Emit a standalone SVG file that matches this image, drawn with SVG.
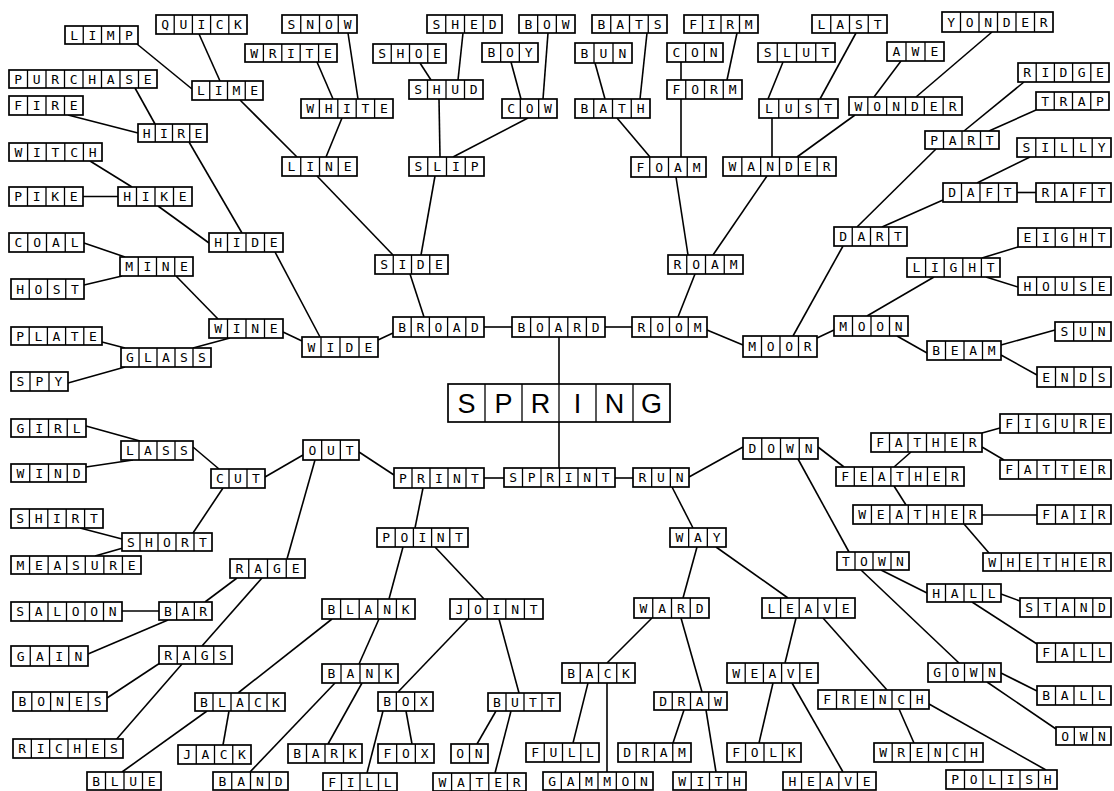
<svg xmlns="http://www.w3.org/2000/svg" width="1114" height="791" viewBox="0 0 1114 791">
<style>
.n rect{fill:#fff;stroke:#000;stroke-width:1.7}
.n path{fill:none;stroke:#000;stroke-width:1.3}
.n text{font-family:"DejaVu Sans Mono",monospace;font-size:13px;fill:#000}
#connectors line{stroke:#000;stroke-width:1.6}
#spring text{font-family:"Liberation Sans",Arial,sans-serif;font-size:27px;text-anchor:middle}
</style>
<rect width="1114" height="791" fill="#fff"/>
<g id="connectors">
<line x1="484" y1="327" x2="512" y2="327"/>
<line x1="605" y1="327" x2="632" y2="327"/>
<line x1="559" y1="337" x2="559" y2="468"/>
<line x1="410" y1="274" x2="424" y2="317"/>
<line x1="393" y1="333" x2="378" y2="340"/>
<line x1="283" y1="332" x2="302" y2="341"/>
<line x1="275" y1="252" x2="320" y2="337"/>
<line x1="317" y1="176" x2="393" y2="255"/>
<line x1="435" y1="176" x2="421" y2="255"/>
<line x1="240" y1="100" x2="297" y2="157"/>
<line x1="342" y1="118" x2="326" y2="157"/>
<line x1="317" y1="62" x2="333" y2="99"/>
<line x1="348" y1="33" x2="358" y2="99"/>
<line x1="439" y1="99" x2="440" y2="157"/>
<line x1="528" y1="118" x2="453" y2="157"/>
<line x1="420" y1="63" x2="431" y2="80"/>
<line x1="463" y1="33" x2="458" y2="80"/>
<line x1="511" y1="62" x2="521" y2="99"/>
<line x1="548" y1="33" x2="543" y2="99"/>
<line x1="137" y1="44" x2="192" y2="89"/>
<line x1="199" y1="34" x2="220" y2="81"/>
<line x1="189" y1="142" x2="242" y2="233"/>
<line x1="158" y1="206" x2="209" y2="243"/>
<line x1="135" y1="88" x2="155" y2="124"/>
<line x1="68" y1="115" x2="138" y2="133"/>
<line x1="90" y1="161" x2="132" y2="187"/>
<line x1="83" y1="196.5" x2="118" y2="196.5"/>
<line x1="176" y1="276" x2="218" y2="319"/>
<line x1="84" y1="243" x2="125" y2="257"/>
<line x1="84" y1="285" x2="122" y2="276"/>
<line x1="193" y1="348" x2="230" y2="338"/>
<line x1="102" y1="342" x2="125" y2="348"/>
<line x1="68" y1="383" x2="125" y2="367"/>
<line x1="484" y1="478" x2="504" y2="478"/>
<line x1="615" y1="478" x2="633" y2="478"/>
<line x1="359" y1="452" x2="394" y2="475"/>
<line x1="265" y1="477" x2="303" y2="455"/>
<line x1="315" y1="460" x2="287" y2="559"/>
<line x1="193" y1="447" x2="219" y2="469"/>
<line x1="86" y1="426" x2="140" y2="441"/>
<line x1="86" y1="467" x2="133" y2="460"/>
<line x1="223" y1="488" x2="193" y2="533"/>
<line x1="80" y1="528" x2="122" y2="539"/>
<line x1="95" y1="556" x2="123" y2="548"/>
<line x1="205" y1="602" x2="237" y2="578"/>
<line x1="202" y1="646" x2="262" y2="578"/>
<line x1="122" y1="611" x2="159" y2="611"/>
<line x1="88" y1="654" x2="168" y2="620"/>
<line x1="107" y1="698" x2="160" y2="663"/>
<line x1="115" y1="741" x2="182" y2="664"/>
<line x1="423" y1="488" x2="415" y2="528"/>
<line x1="403" y1="547" x2="389" y2="599"/>
<line x1="435" y1="547" x2="484" y2="599"/>
<line x1="332" y1="619" x2="238" y2="693"/>
<line x1="379" y1="619" x2="359" y2="664"/>
<line x1="207" y1="711" x2="122" y2="772"/>
<line x1="229" y1="711" x2="223" y2="745"/>
<line x1="335" y1="683" x2="250" y2="772"/>
<line x1="362" y1="683" x2="328" y2="744"/>
<line x1="468" y1="619" x2="398" y2="692"/>
<line x1="499" y1="619" x2="519" y2="693"/>
<line x1="383" y1="711" x2="367" y2="773"/>
<line x1="406" y1="711" x2="412" y2="744"/>
<line x1="496" y1="711" x2="477" y2="744"/>
<line x1="511" y1="711" x2="495" y2="773"/>
<line x1="689" y1="477" x2="743" y2="447"/>
<line x1="672" y1="487" x2="693" y2="528"/>
<line x1="697" y1="547" x2="683" y2="598"/>
<line x1="716" y1="547" x2="788" y2="598"/>
<line x1="652" y1="618" x2="607" y2="663"/>
<line x1="681" y1="618" x2="702" y2="692"/>
<line x1="588" y1="683" x2="573" y2="743"/>
<line x1="607" y1="683" x2="607" y2="772"/>
<line x1="684" y1="710" x2="673" y2="743"/>
<line x1="706" y1="710" x2="716" y2="772"/>
<line x1="796" y1="618" x2="785" y2="663"/>
<line x1="823" y1="618" x2="887" y2="690"/>
<line x1="773" y1="683" x2="759" y2="743"/>
<line x1="792" y1="683" x2="843" y2="772"/>
<line x1="899" y1="709" x2="914" y2="743"/>
<line x1="929" y1="704" x2="1046" y2="770"/>
<line x1="818" y1="447" x2="844" y2="467"/>
<line x1="798" y1="459" x2="849" y2="552"/>
<line x1="861" y1="570" x2="959" y2="663"/>
<line x1="894" y1="467" x2="911" y2="452"/>
<line x1="982" y1="433" x2="1000" y2="428"/>
<line x1="982" y1="447" x2="1004" y2="460"/>
<line x1="894" y1="486" x2="906" y2="505"/>
<line x1="982" y1="515" x2="1037" y2="515"/>
<line x1="964" y1="524" x2="989" y2="553"/>
<line x1="881" y1="570" x2="927" y2="593"/>
<line x1="1001" y1="594" x2="1020" y2="601"/>
<line x1="972" y1="602" x2="1037" y2="644"/>
<line x1="1001" y1="673" x2="1037" y2="691"/>
<line x1="987" y1="682" x2="1056" y2="729"/>
<line x1="695" y1="274" x2="678" y2="317"/>
<line x1="707" y1="330" x2="743" y2="345"/>
<line x1="793" y1="336" x2="843" y2="246"/>
<line x1="817" y1="338" x2="834" y2="330"/>
<line x1="676" y1="177" x2="688" y2="255"/>
<line x1="767" y1="176" x2="713" y2="255"/>
<line x1="617" y1="118" x2="650" y2="157"/>
<line x1="681" y1="99" x2="681" y2="157"/>
<line x1="595" y1="63" x2="605" y2="99"/>
<line x1="647" y1="33" x2="640" y2="99"/>
<line x1="681" y1="62" x2="681" y2="80"/>
<line x1="737" y1="33" x2="727" y2="80"/>
<line x1="772" y1="118" x2="772" y2="157"/>
<line x1="855" y1="115" x2="797" y2="157"/>
<line x1="783" y1="62" x2="768" y2="99"/>
<line x1="856" y1="33" x2="820" y2="99"/>
<line x1="901" y1="61" x2="874" y2="97"/>
<line x1="992" y1="32" x2="916" y2="97"/>
<line x1="936" y1="149" x2="857" y2="227"/>
<line x1="1024" y1="82" x2="964" y2="131"/>
<line x1="1036" y1="110" x2="989" y2="131"/>
<line x1="943" y1="200" x2="882" y2="227"/>
<line x1="1030" y1="157" x2="977" y2="183"/>
<line x1="1017" y1="192.5" x2="1036" y2="192.5"/>
<line x1="867" y1="316" x2="934" y2="277"/>
<line x1="1018" y1="247" x2="982" y2="258"/>
<line x1="986" y1="277" x2="1018" y2="287"/>
<line x1="897" y1="336" x2="927" y2="353"/>
<line x1="1001" y1="345" x2="1055" y2="330"/>
<line x1="1001" y1="355" x2="1037" y2="375"/>
</g>

<g id="limp" class="n"><rect x="65" y="26" width="73" height="18"/><path d="M83.25,26v18m18.25,-18v18m18.25,-18v18"/><text x="70.2" y="39.7" dx="0 10.42 10.42 10.42">LIMP</text></g>
<g id="quick" class="n"><rect x="156" y="15" width="91" height="19"/><path d="M174.2,15v19m18.2,-19v19m18.2,-19v19m18.2,-19v19"/><text x="161.2" y="29.2" dx="0 10.37 10.37 10.37 10.37">QUICK</text></g>
<g id="purchase" class="n"><rect x="9" y="70" width="148" height="18"/><path d="M27.5,70v18m18.5,-18v18m18.5,-18v18m18.5,-18v18m18.5,-18v18m18.5,-18v18m18.5,-18v18"/><text x="14.3" y="83.7" dx="0 10.67 10.67 10.67 10.67 10.67 10.67 10.67">PURCHASE</text></g>
<g id="fire" class="n"><rect x="9" y="96" width="74" height="19"/><path d="M27.5,96v19m18.5,-19v19m18.5,-19v19"/><text x="14.3" y="110.2" dx="0 10.67 10.67 10.67">FIRE</text></g>
<g id="lime" class="n"><rect x="192" y="81" width="71" height="19"/><path d="M209.75,81v19m17.75,-19v19m17.75,-19v19"/><text x="197" y="95.2" dx="0 9.92 9.92 9.92">LIME</text></g>
<g id="hire" class="n"><rect x="138" y="124" width="69" height="18"/><path d="M155.25,124v18m17.25,-18v18m17.25,-18v18"/><text x="142.7" y="137.7" dx="0 9.42 9.42 9.42">HIRE</text></g>
<g id="witch" class="n"><rect x="9" y="143" width="93" height="18"/><path d="M27.6,143v18m18.6,-18v18m18.6,-18v18m18.6,-18v18"/><text x="14.4" y="156.7" dx="0 10.77 10.77 10.77 10.77">WITCH</text></g>
<g id="pike" class="n"><rect x="9" y="187" width="74" height="19"/><path d="M27.5,187v19m18.5,-19v19m18.5,-19v19"/><text x="14.3" y="201.2" dx="0 10.67 10.67 10.67">PIKE</text></g>
<g id="hike" class="n"><rect x="118" y="187" width="74" height="19"/><path d="M136.5,187v19m18.5,-19v19m18.5,-19v19"/><text x="123.3" y="201.2" dx="0 10.67 10.67 10.67">HIKE</text></g>
<g id="hide" class="n"><rect x="209" y="233" width="74" height="19"/><path d="M227.5,233v19m18.5,-19v19m18.5,-19v19"/><text x="214.3" y="247.2" dx="0 10.67 10.67 10.67">HIDE</text></g>
<g id="coal" class="n"><rect x="9" y="233" width="75" height="19"/><path d="M27.75,233v19m18.75,-19v19m18.75,-19v19"/><text x="14.5" y="247.2" dx="0 10.92 10.92 10.92">COAL</text></g>
<g id="mine" class="n"><rect x="120" y="257" width="73" height="19"/><path d="M138.25,257v19m18.25,-19v19m18.25,-19v19"/><text x="125.2" y="271.2" dx="0 10.42 10.42 10.42">MINE</text></g>
<g id="host" class="n"><rect x="11" y="279" width="73" height="20"/><path d="M29.25,279v20m18.25,-20v20m18.25,-20v20"/><text x="16.2" y="293.7" dx="0 10.42 10.42 10.42">HOST</text></g>
<g id="wine" class="n"><rect x="209" y="319" width="74" height="19"/><path d="M227.5,319v19m18.5,-19v19m18.5,-19v19"/><text x="214.3" y="333.2" dx="0 10.67 10.67 10.67">WINE</text></g>
<g id="plate" class="n"><rect x="11" y="327" width="91" height="18"/><path d="M29.2,327v18m18.2,-18v18m18.2,-18v18m18.2,-18v18"/><text x="16.2" y="340.7" dx="0 10.37 10.37 10.37 10.37">PLATE</text></g>
<g id="glass" class="n"><rect x="121" y="348" width="90" height="19"/><path d="M139,348v19m18,-19v19m18,-19v19m18,-19v19"/><text x="126.1" y="362.2" dx="0 10.17 10.17 10.17 10.17">GLASS</text></g>
<g id="spy" class="n"><rect x="11" y="372" width="57" height="19"/><path d="M30,372v19m19,-19v19"/><text x="16.6" y="386.2" dx="0 11.17 11.17">SPY</text></g>
<g id="girl" class="n"><rect x="11" y="419" width="75" height="18"/><path d="M29.75,419v18m18.75,-18v18m18.75,-18v18"/><text x="16.5" y="432.7" dx="0 10.92 10.92 10.92">GIRL</text></g>
<g id="lass" class="n"><rect x="121" y="441" width="72" height="19"/><path d="M139,441v19m18,-19v19m18,-19v19"/><text x="126.1" y="455.2" dx="0 10.17 10.17 10.17">LASS</text></g>
<g id="wind" class="n"><rect x="11" y="464" width="75" height="18"/><path d="M29.75,464v18m18.75,-18v18m18.75,-18v18"/><text x="16.5" y="477.7" dx="0 10.92 10.92 10.92">WIND</text></g>
<g id="cut" class="n"><rect x="211" y="469" width="54" height="19"/><path d="M229,469v19m18,-19v19"/><text x="216.1" y="483.2" dx="0 10.17 10.17">CUT</text></g>
<g id="shirt" class="n"><rect x="11" y="509" width="92" height="19"/><path d="M29.4,509v19m18.4,-19v19m18.4,-19v19m18.4,-19v19"/><text x="16.3" y="523.2" dx="0 10.57 10.57 10.57 10.57">SHIRT</text></g>
<g id="short" class="n"><rect x="122" y="533" width="90" height="18"/><path d="M140,533v18m18,-18v18m18,-18v18m18,-18v18"/><text x="127.1" y="546.7" dx="0 10.17 10.17 10.17 10.17">SHORT</text></g>
<g id="measure" class="n"><rect x="11" y="556" width="130" height="18"/><path d="M29.57,556v18m18.57,-18v18m18.57,-18v18m18.57,-18v18m18.57,-18v18m18.57,-18v18"/><text x="16.4" y="569.7" dx="0 10.74 10.74 10.74 10.74 10.74 10.74">MEASURE</text></g>
<g id="rage" class="n"><rect x="230" y="559" width="75" height="19"/><path d="M248.75,559v19m18.75,-19v19m18.75,-19v19"/><text x="235.5" y="573.2" dx="0 10.92 10.92 10.92">RAGE</text></g>
<g id="saloon" class="n"><rect x="11" y="602" width="111" height="19"/><path d="M29.5,602v19m18.5,-19v19m18.5,-19v19m18.5,-19v19m18.5,-19v19"/><text x="16.3" y="616.2" dx="0 10.67 10.67 10.67 10.67 10.67">SALOON</text></g>
<g id="bar" class="n"><rect x="159" y="602" width="53" height="18"/><path d="M176.67,602v18m17.67,-18v18"/><text x="163.9" y="615.7" dx="0 9.84 9.84">BAR</text></g>
<g id="gain" class="n"><rect x="11" y="646" width="77" height="20"/><path d="M30.25,646v20m19.25,-20v20m19.25,-20v20"/><text x="16.7" y="660.7" dx="0 11.42 11.42 11.42">GAIN</text></g>
<g id="rags" class="n"><rect x="159" y="646" width="73" height="18"/><path d="M177.25,646v18m18.25,-18v18m18.25,-18v18"/><text x="164.2" y="659.7" dx="0 10.42 10.42 10.42">RAGS</text></g>
<g id="bones" class="n"><rect x="13" y="692" width="94" height="19"/><path d="M31.8,692v19m18.8,-19v19m18.8,-19v19m18.8,-19v19"/><text x="18.5" y="706.2" dx="0 10.97 10.97 10.97 10.97">BONES</text></g>
<g id="black" class="n"><rect x="195" y="693" width="90" height="18"/><path d="M213,693v18m18,-18v18m18,-18v18m18,-18v18"/><text x="200.1" y="706.7" dx="0 10.17 10.17 10.17 10.17">BLACK</text></g>
<g id="riches" class="n"><rect x="13" y="739" width="110" height="19"/><path d="M31.33,739v19m18.33,-19v19m18.33,-19v19m18.33,-19v19m18.33,-19v19"/><text x="18.3" y="753.2" dx="0 10.5 10.5 10.5 10.5 10.5">RICHES</text></g>
<g id="jack" class="n"><rect x="178" y="745" width="73" height="19"/><path d="M196.25,745v19m18.25,-19v19m18.25,-19v19"/><text x="183.2" y="759.2" dx="0 10.42 10.42 10.42">JACK</text></g>
<g id="blue" class="n"><rect x="87" y="772" width="74" height="18"/><path d="M105.5,772v18m18.5,-18v18m18.5,-18v18"/><text x="92.3" y="785.7" dx="0 10.67 10.67 10.67">BLUE</text></g>
<g id="band" class="n"><rect x="213" y="772" width="75" height="18"/><path d="M231.75,772v18m18.75,-18v18m18.75,-18v18"/><text x="218.5" y="785.7" dx="0 10.92 10.92 10.92">BAND</text></g>
<g id="snow" class="n"><rect x="282" y="15" width="75" height="18"/><path d="M300.75,15v18m18.75,-18v18m18.75,-18v18"/><text x="287.5" y="28.7" dx="0 10.92 10.92 10.92">SNOW</text></g>
<g id="write" class="n"><rect x="245" y="44" width="92" height="18"/><path d="M263.4,44v18m18.4,-18v18m18.4,-18v18m18.4,-18v18"/><text x="250.3" y="57.7" dx="0 10.57 10.57 10.57 10.57">WRITE</text></g>
<g id="shed" class="n"><rect x="427" y="15" width="75" height="18"/><path d="M445.75,15v18m18.75,-18v18m18.75,-18v18"/><text x="432.5" y="28.7" dx="0 10.92 10.92 10.92">SHED</text></g>
<g id="bow" class="n"><rect x="519" y="15" width="56" height="18"/><path d="M537.67,15v18m18.67,-18v18"/><text x="524.4" y="28.7" dx="0 10.84 10.84">BOW</text></g>
<g id="shoe" class="n"><rect x="373" y="44" width="73" height="19"/><path d="M391.25,44v19m18.25,-19v19m18.25,-19v19"/><text x="378.2" y="58.2" dx="0 10.42 10.42 10.42">SHOE</text></g>
<g id="boy" class="n"><rect x="482" y="43" width="56" height="19"/><path d="M500.67,43v19m18.67,-19v19"/><text x="487.4" y="57.2" dx="0 10.84 10.84">BOY</text></g>
<g id="white" class="n"><rect x="301" y="99" width="92" height="19"/><path d="M319.4,99v19m18.4,-19v19m18.4,-19v19m18.4,-19v19"/><text x="306.3" y="113.2" dx="0 10.57 10.57 10.57 10.57">WHITE</text></g>
<g id="shud" class="n"><rect x="409" y="80" width="74" height="19"/><path d="M427.5,80v19m18.5,-19v19m18.5,-19v19"/><text x="414.3" y="94.2" dx="0 10.67 10.67 10.67">SHUD</text></g>
<g id="cow" class="n"><rect x="502" y="99" width="55" height="19"/><path d="M520.33,99v19m18.33,-19v19"/><text x="507.3" y="113.2" dx="0 10.5 10.5">COW</text></g>
<g id="line" class="n"><rect x="282" y="157" width="75" height="19"/><path d="M300.75,157v19m18.75,-19v19m18.75,-19v19"/><text x="287.5" y="171.2" dx="0 10.92 10.92 10.92">LINE</text></g>
<g id="slip" class="n"><rect x="409" y="157" width="75" height="19"/><path d="M427.75,157v19m18.75,-19v19m18.75,-19v19"/><text x="414.5" y="171.2" dx="0 10.92 10.92 10.92">SLIP</text></g>
<g id="side" class="n"><rect x="375" y="255" width="73" height="19"/><path d="M393.25,255v19m18.25,-19v19m18.25,-19v19"/><text x="380.2" y="269.2" dx="0 10.42 10.42 10.42">SIDE</text></g>
<g id="bats" class="n"><rect x="592" y="15" width="75" height="18"/><path d="M610.75,15v18m18.75,-18v18m18.75,-18v18"/><text x="597.5" y="28.7" dx="0 10.92 10.92 10.92">BATS</text></g>
<g id="firm" class="n"><rect x="684" y="15" width="74" height="18"/><path d="M702.5,15v18m18.5,-18v18m18.5,-18v18"/><text x="689.3" y="28.7" dx="0 10.67 10.67 10.67">FIRM</text></g>
<g id="last" class="n"><rect x="812" y="15" width="75" height="18"/><path d="M830.75,15v18m18.75,-18v18m18.75,-18v18"/><text x="817.5" y="28.7" dx="0 10.92 10.92 10.92">LAST</text></g>
<g id="bun" class="n"><rect x="575" y="43" width="57" height="20"/><path d="M594,43v20m19,-20v20"/><text x="580.6" y="57.7" dx="0 11.17 11.17">BUN</text></g>
<g id="con" class="n"><rect x="667" y="43" width="56" height="19"/><path d="M685.67,43v19m18.67,-19v19"/><text x="672.4" y="57.2" dx="0 10.84 10.84">CON</text></g>
<g id="slut" class="n"><rect x="758" y="43" width="77" height="19"/><path d="M777.25,43v19m19.25,-19v19m19.25,-19v19"/><text x="763.7" y="57.2" dx="0 11.42 11.42 11.42">SLUT</text></g>
<g id="form" class="n"><rect x="667" y="80" width="75" height="19"/><path d="M685.75,80v19m18.75,-19v19m18.75,-19v19"/><text x="672.5" y="94.2" dx="0 10.92 10.92 10.92">FORM</text></g>
<g id="bath" class="n"><rect x="575" y="99" width="75" height="19"/><path d="M593.75,99v19m18.75,-19v19m18.75,-19v19"/><text x="580.5" y="113.2" dx="0 10.92 10.92 10.92">BATH</text></g>
<g id="lust" class="n"><rect x="759" y="99" width="79" height="19"/><path d="M778.75,99v19m19.75,-19v19m19.75,-19v19"/><text x="765" y="113.2" dx="0 11.92 11.92 11.92">LUST</text></g>
<g id="foam" class="n"><rect x="631" y="157" width="75" height="20"/><path d="M649.75,157v20m18.75,-20v20m18.75,-20v20"/><text x="636.5" y="171.7" dx="0 10.92 10.92 10.92">FOAM</text></g>
<g id="wander" class="n"><rect x="723" y="157" width="113" height="19"/><path d="M741.83,157v19m18.83,-19v19m18.83,-19v19m18.83,-19v19m18.83,-19v19"/><text x="728.5" y="171.2" dx="0 11 11 11 11 11">WANDER</text></g>
<g id="roam" class="n"><rect x="668" y="255" width="75" height="19"/><path d="M686.75,255v19m18.75,-19v19m18.75,-19v19"/><text x="673.5" y="269.2" dx="0 10.92 10.92 10.92">ROAM</text></g>
<g id="yonder" class="n"><rect x="942" y="12" width="111" height="20"/><path d="M960.5,12v20m18.5,-20v20m18.5,-20v20m18.5,-20v20m18.5,-20v20"/><text x="947.3" y="26.7" dx="0 10.67 10.67 10.67 10.67 10.67">YONDER</text></g>
<g id="awe" class="n"><rect x="887" y="42" width="57" height="19"/><path d="M906,42v19m19,-19v19"/><text x="892.6" y="56.2" dx="0 11.17 11.17">AWE</text></g>
<g id="ridge" class="n"><rect x="1018" y="63" width="91" height="19"/><path d="M1036.2,63v19m18.2,-19v19m18.2,-19v19m18.2,-19v19"/><text x="1023.2" y="77.2" dx="0 10.37 10.37 10.37 10.37">RIDGE</text></g>
<g id="wonder" class="n"><rect x="849" y="97" width="113" height="18"/><path d="M867.83,97v18m18.83,-18v18m18.83,-18v18m18.83,-18v18m18.83,-18v18"/><text x="854.5" y="110.7" dx="0 11 11 11 11 11">WONDER</text></g>
<g id="trap" class="n"><rect x="1036" y="92" width="73" height="18"/><path d="M1054.25,92v18m18.25,-18v18m18.25,-18v18"/><text x="1041.2" y="105.7" dx="0 10.42 10.42 10.42">TRAP</text></g>
<g id="part" class="n"><rect x="925" y="131" width="74" height="18"/><path d="M943.5,131v18m18.5,-18v18m18.5,-18v18"/><text x="930.3" y="144.7" dx="0 10.67 10.67 10.67">PART</text></g>
<g id="silly" class="n"><rect x="1017" y="138" width="94" height="19"/><path d="M1035.8,138v19m18.8,-19v19m18.8,-19v19m18.8,-19v19"/><text x="1022.5" y="152.2" dx="0 10.97 10.97 10.97 10.97">SILLY</text></g>
<g id="daft" class="n"><rect x="943" y="183" width="74" height="19"/><path d="M961.5,183v19m18.5,-19v19m18.5,-19v19"/><text x="948.3" y="197.2" dx="0 10.67 10.67 10.67">DAFT</text></g>
<g id="raft" class="n"><rect x="1036" y="183" width="75" height="19"/><path d="M1054.75,183v19m18.75,-19v19m18.75,-19v19"/><text x="1041.5" y="197.2" dx="0 10.92 10.92 10.92">RAFT</text></g>
<g id="dart" class="n"><rect x="834" y="227" width="73" height="19"/><path d="M852.25,227v19m18.25,-19v19m18.25,-19v19"/><text x="839.2" y="241.2" dx="0 10.42 10.42 10.42">DART</text></g>
<g id="eight" class="n"><rect x="1018" y="228" width="93" height="19"/><path d="M1036.6,228v19m18.6,-19v19m18.6,-19v19m18.6,-19v19"/><text x="1023.4" y="242.2" dx="0 10.77 10.77 10.77 10.77">EIGHT</text></g>
<g id="light" class="n"><rect x="907" y="258" width="93" height="19"/><path d="M925.6,258v19m18.6,-19v19m18.6,-19v19m18.6,-19v19"/><text x="912.4" y="272.2" dx="0 10.77 10.77 10.77 10.77">LIGHT</text></g>
<g id="house" class="n"><rect x="1018" y="277" width="93" height="18"/><path d="M1036.6,277v18m18.6,-18v18m18.6,-18v18m18.6,-18v18"/><text x="1023.4" y="290.7" dx="0 10.77 10.77 10.77 10.77">HOUSE</text></g>
<g id="moon" class="n"><rect x="834" y="316" width="74" height="20"/><path d="M852.5,316v20m18.5,-20v20m18.5,-20v20"/><text x="839.3" y="330.7" dx="0 10.67 10.67 10.67">MOON</text></g>
<g id="sun" class="n"><rect x="1055" y="322" width="56" height="19"/><path d="M1073.67,322v19m18.67,-19v19"/><text x="1060.4" y="336.2" dx="0 10.84 10.84">SUN</text></g>
<g id="beam" class="n"><rect x="927" y="341" width="74" height="19"/><path d="M945.5,341v19m18.5,-19v19m18.5,-19v19"/><text x="932.3" y="355.2" dx="0 10.67 10.67 10.67">BEAM</text></g>
<g id="ends" class="n"><rect x="1037" y="367" width="74" height="20"/><path d="M1055.5,367v20m18.5,-20v20m18.5,-20v20"/><text x="1042.3" y="381.7" dx="0 10.67 10.67 10.67">ENDS</text></g>
<g id="figure" class="n"><rect x="1000" y="414" width="111" height="19"/><path d="M1018.5,414v19m18.5,-19v19m18.5,-19v19m18.5,-19v19m18.5,-19v19"/><text x="1005.3" y="428.2" dx="0 10.67 10.67 10.67 10.67 10.67">FIGURE</text></g>
<g id="father" class="n"><rect x="871" y="433" width="111" height="19"/><path d="M889.5,433v19m18.5,-19v19m18.5,-19v19m18.5,-19v19m18.5,-19v19"/><text x="876.3" y="447.2" dx="0 10.67 10.67 10.67 10.67 10.67">FATHER</text></g>
<g id="fatter" class="n"><rect x="1000" y="460" width="111" height="19"/><path d="M1018.5,460v19m18.5,-19v19m18.5,-19v19m18.5,-19v19m18.5,-19v19"/><text x="1005.3" y="474.2" dx="0 10.67 10.67 10.67 10.67 10.67">FATTER</text></g>
<g id="feather" class="n"><rect x="836" y="467" width="128" height="19"/><path d="M854.29,467v19m18.29,-19v19m18.29,-19v19m18.29,-19v19m18.29,-19v19m18.29,-19v19"/><text x="841.2" y="481.2" dx="0 10.46 10.46 10.46 10.46 10.46 10.46">FEATHER</text></g>
<g id="weather" class="n"><rect x="853" y="505" width="129" height="19"/><path d="M871.43,505v19m18.43,-19v19m18.43,-19v19m18.43,-19v19m18.43,-19v19m18.43,-19v19"/><text x="858.3" y="519.2" dx="0 10.6 10.6 10.6 10.6 10.6 10.6">WEATHER</text></g>
<g id="fair" class="n"><rect x="1037" y="505" width="74" height="19"/><path d="M1055.5,505v19m18.5,-19v19m18.5,-19v19"/><text x="1042.3" y="519.2" dx="0 10.67 10.67 10.67">FAIR</text></g>
<g id="whether" class="n"><rect x="983" y="553" width="128" height="18"/><path d="M1001.29,553v18m18.29,-18v18m18.29,-18v18m18.29,-18v18m18.29,-18v18m18.29,-18v18"/><text x="988.2" y="566.7" dx="0 10.46 10.46 10.46 10.46 10.46 10.46">WHETHER</text></g>
<g id="town" class="n"><rect x="837" y="552" width="72" height="18"/><path d="M855,552v18m18,-18v18m18,-18v18"/><text x="842.1" y="565.7" dx="0 10.17 10.17 10.17">TOWN</text></g>
<g id="hall" class="n"><rect x="927" y="584" width="74" height="18"/><path d="M945.5,584v18m18.5,-18v18m18.5,-18v18"/><text x="932.3" y="597.7" dx="0 10.67 10.67 10.67">HALL</text></g>
<g id="stand" class="n"><rect x="1020" y="598" width="91" height="19"/><path d="M1038.2,598v19m18.2,-19v19m18.2,-19v19m18.2,-19v19"/><text x="1025.2" y="612.2" dx="0 10.37 10.37 10.37 10.37">STAND</text></g>
<g id="fall" class="n"><rect x="1037" y="643" width="74" height="19"/><path d="M1055.5,643v19m18.5,-19v19m18.5,-19v19"/><text x="1042.3" y="657.2" dx="0 10.67 10.67 10.67">FALL</text></g>
<g id="gown" class="n"><rect x="928" y="663" width="73" height="19"/><path d="M946.25,663v19m18.25,-19v19m18.25,-19v19"/><text x="933.2" y="677.2" dx="0 10.42 10.42 10.42">GOWN</text></g>
<g id="ball" class="n"><rect x="1037" y="686" width="74" height="19"/><path d="M1055.5,686v19m18.5,-19v19m18.5,-19v19"/><text x="1042.3" y="700.2" dx="0 10.67 10.67 10.67">BALL</text></g>
<g id="french" class="n"><rect x="818" y="690" width="111" height="19"/><path d="M836.5,690v19m18.5,-19v19m18.5,-19v19m18.5,-19v19m18.5,-19v19"/><text x="823.3" y="704.2" dx="0 10.67 10.67 10.67 10.67 10.67">FRENCH</text></g>
<g id="own" class="n"><rect x="1056" y="727" width="55" height="18"/><path d="M1074.33,727v18m18.33,-18v18"/><text x="1061.3" y="740.7" dx="0 10.5 10.5">OWN</text></g>
<g id="wrench" class="n"><rect x="874" y="743" width="109" height="19"/><path d="M892.17,743v19m18.17,-19v19m18.17,-19v19m18.17,-19v19m18.17,-19v19"/><text x="879.2" y="757.2" dx="0 10.34 10.34 10.34 10.34 10.34">WRENCH</text></g>
<g id="polish" class="n"><rect x="946" y="770" width="111" height="19"/><path d="M964.5,770v19m18.5,-19v19m18.5,-19v19m18.5,-19v19m18.5,-19v19"/><text x="951.3" y="784.2" dx="0 10.67 10.67 10.67 10.67 10.67">POLISH</text></g>
<g id="heave" class="n"><rect x="783" y="772" width="93" height="18"/><path d="M801.6,772v18m18.6,-18v18m18.6,-18v18m18.6,-18v18"/><text x="788.4" y="785.7" dx="0 10.77 10.77 10.77 10.77">HEAVE</text></g>
<g id="way" class="n"><rect x="670" y="528" width="56" height="19"/><path d="M688.67,528v19m18.67,-19v19"/><text x="675.4" y="542.2" dx="0 10.84 10.84">WAY</text></g>
<g id="ward" class="n"><rect x="634" y="598" width="75" height="20"/><path d="M652.75,598v20m18.75,-20v20m18.75,-20v20"/><text x="639.5" y="612.7" dx="0 10.92 10.92 10.92">WARD</text></g>
<g id="leave" class="n"><rect x="762" y="598" width="93" height="20"/><path d="M780.6,598v20m18.6,-20v20m18.6,-20v20m18.6,-20v20"/><text x="767.4" y="612.7" dx="0 10.77 10.77 10.77 10.77">LEAVE</text></g>
<g id="back" class="n"><rect x="562" y="663" width="73" height="20"/><path d="M580.25,663v20m18.25,-20v20m18.25,-20v20"/><text x="567.2" y="677.7" dx="0 10.42 10.42 10.42">BACK</text></g>
<g id="weave" class="n"><rect x="727" y="663" width="91" height="20"/><path d="M745.2,663v20m18.2,-20v20m18.2,-20v20m18.2,-20v20"/><text x="732.2" y="677.7" dx="0 10.37 10.37 10.37 10.37">WEAVE</text></g>
<g id="draw" class="n"><rect x="654" y="692" width="73" height="18"/><path d="M672.25,692v18m18.25,-18v18m18.25,-18v18"/><text x="659.2" y="705.7" dx="0 10.42 10.42 10.42">DRAW</text></g>
<g id="full" class="n"><rect x="526" y="743" width="73" height="19"/><path d="M544.25,743v19m18.25,-19v19m18.25,-19v19"/><text x="531.2" y="757.2" dx="0 10.42 10.42 10.42">FULL</text></g>
<g id="dram" class="n"><rect x="618" y="743" width="73" height="19"/><path d="M636.25,743v19m18.25,-19v19m18.25,-19v19"/><text x="623.2" y="757.2" dx="0 10.42 10.42 10.42">DRAM</text></g>
<g id="folk" class="n"><rect x="727" y="743" width="74" height="19"/><path d="M745.5,743v19m18.5,-19v19m18.5,-19v19"/><text x="732.3" y="757.2" dx="0 10.67 10.67 10.67">FOLK</text></g>
<g id="gammon" class="n"><rect x="543" y="772" width="110" height="18"/><path d="M561.33,772v18m18.33,-18v18m18.33,-18v18m18.33,-18v18m18.33,-18v18"/><text x="548.3" y="785.7" dx="0 10.5 10.5 10.5 10.5 10.5">GAMMON</text></g>
<g id="with" class="n"><rect x="673" y="772" width="73" height="18"/><path d="M691.25,772v18m18.25,-18v18m18.25,-18v18"/><text x="678.2" y="785.7" dx="0 10.42 10.42 10.42">WITH</text></g>
<g id="point" class="n"><rect x="377" y="528" width="91" height="19"/><path d="M395.2,528v19m18.2,-19v19m18.2,-19v19m18.2,-19v19"/><text x="382.2" y="542.2" dx="0 10.37 10.37 10.37 10.37">POINT</text></g>
<g id="blank" class="n"><rect x="322" y="599" width="93" height="20"/><path d="M340.6,599v20m18.6,-20v20m18.6,-20v20m18.6,-20v20"/><text x="327.4" y="613.7" dx="0 10.77 10.77 10.77 10.77">BLANK</text></g>
<g id="joint" class="n"><rect x="450" y="599" width="93" height="20"/><path d="M468.6,599v20m18.6,-20v20m18.6,-20v20m18.6,-20v20"/><text x="455.4" y="613.7" dx="0 10.77 10.77 10.77 10.77">JOINT</text></g>
<g id="bank" class="n"><rect x="322" y="664" width="76" height="19"/><path d="M341,664v19m19,-19v19m19,-19v19"/><text x="327.6" y="678.2" dx="0 11.17 11.17 11.17">BANK</text></g>
<g id="box" class="n"><rect x="378" y="692" width="55" height="19"/><path d="M396.33,692v19m18.33,-19v19"/><text x="383.3" y="706.2" dx="0 10.5 10.5">BOX</text></g>
<g id="butt" class="n"><rect x="488" y="693" width="72" height="18"/><path d="M506,693v18m18,-18v18m18,-18v18"/><text x="493.1" y="706.7" dx="0 10.17 10.17 10.17">BUTT</text></g>
<g id="bark" class="n"><rect x="288" y="744" width="74" height="19"/><path d="M306.5,744v19m18.5,-19v19m18.5,-19v19"/><text x="293.3" y="758.2" dx="0 10.67 10.67 10.67">BARK</text></g>
<g id="fox" class="n"><rect x="378" y="744" width="56" height="19"/><path d="M396.67,744v19m18.67,-19v19"/><text x="383.4" y="758.2" dx="0 10.84 10.84">FOX</text></g>
<g id="on" class="n"><rect x="451" y="744" width="37" height="19"/><path d="M469.5,744v19"/><text x="456.3" y="758.2" dx="0 10.67">ON</text></g>
<g id="fill" class="n"><rect x="323" y="773" width="74" height="18"/><path d="M341.5,773v18m18.5,-18v18m18.5,-18v18"/><text x="328.3" y="786.7" dx="0 10.67 10.67 10.67">FILL</text></g>
<g id="water" class="n"><rect x="433" y="773" width="93" height="18"/><path d="M451.6,773v18m18.6,-18v18m18.6,-18v18m18.6,-18v18"/><text x="438.4" y="786.7" dx="0 10.77 10.77 10.77 10.77">WATER</text></g>
<g id="broad" class="n"><rect x="393" y="317" width="91" height="20"/><path d="M411.2,317v20m18.2,-20v20m18.2,-20v20m18.2,-20v20"/><text x="398.2" y="331.7" dx="0 10.37 10.37 10.37 10.37">BROAD</text></g>
<g id="board" class="n"><rect x="512" y="317" width="93" height="20"/><path d="M530.6,317v20m18.6,-20v20m18.6,-20v20m18.6,-20v20"/><text x="517.4" y="331.7" dx="0 10.77 10.77 10.77 10.77">BOARD</text></g>
<g id="wide" class="n"><rect x="302" y="337" width="76" height="20"/><path d="M321,337v20m19,-20v20m19,-20v20"/><text x="307.6" y="351.7" dx="0 11.17 11.17 11.17">WIDE</text></g>
<g id="spring" class="n"><rect x="448" y="384" width="222" height="38"/><path d="M485,384v38m37,-38v38m37,-38v38m37,-38v38m37,-38v38"/><text x="466.5 503.5 540.5 577.5 614.5 651.5" y="412.6">SPRING</text></g>
<g id="out" class="n"><rect x="303" y="440" width="56" height="20"/><path d="M321.67,440v20m18.67,-20v20"/><text x="308.4" y="454.7" dx="0 10.84 10.84">OUT</text></g>
<g id="print" class="n"><rect x="394" y="468" width="90" height="20"/><path d="M412,468v20m18,-20v20m18,-20v20m18,-20v20"/><text x="399.1" y="482.7" dx="0 10.17 10.17 10.17 10.17">PRINT</text></g>
<g id="sprint" class="n"><rect x="504" y="468" width="111" height="19"/><path d="M522.5,468v19m18.5,-19v19m18.5,-19v19m18.5,-19v19m18.5,-19v19"/><text x="509.3" y="482.2" dx="0 10.67 10.67 10.67 10.67 10.67">SPRINT</text></g>
<g id="room" class="n"><rect x="632" y="317" width="75" height="20"/><path d="M650.75,317v20m18.75,-20v20m18.75,-20v20"/><text x="637.5" y="331.7" dx="0 10.92 10.92 10.92">ROOM</text></g>
<g id="moor" class="n"><rect x="743" y="336" width="74" height="21"/><path d="M761.5,336v21m18.5,-21v21m18.5,-21v21"/><text x="748.3" y="351.2" dx="0 10.67 10.67 10.67">MOOR</text></g>
<g id="down" class="n"><rect x="743" y="438" width="75" height="21"/><path d="M761.75,438v21m18.75,-21v21m18.75,-21v21"/><text x="748.5" y="453.2" dx="0 10.92 10.92 10.92">DOWN</text></g>
<g id="run" class="n"><rect x="633" y="468" width="56" height="19"/><path d="M651.67,468v19m18.67,-19v19"/><text x="638.4" y="482.2" dx="0 10.84 10.84">RUN</text></g>
</svg>
